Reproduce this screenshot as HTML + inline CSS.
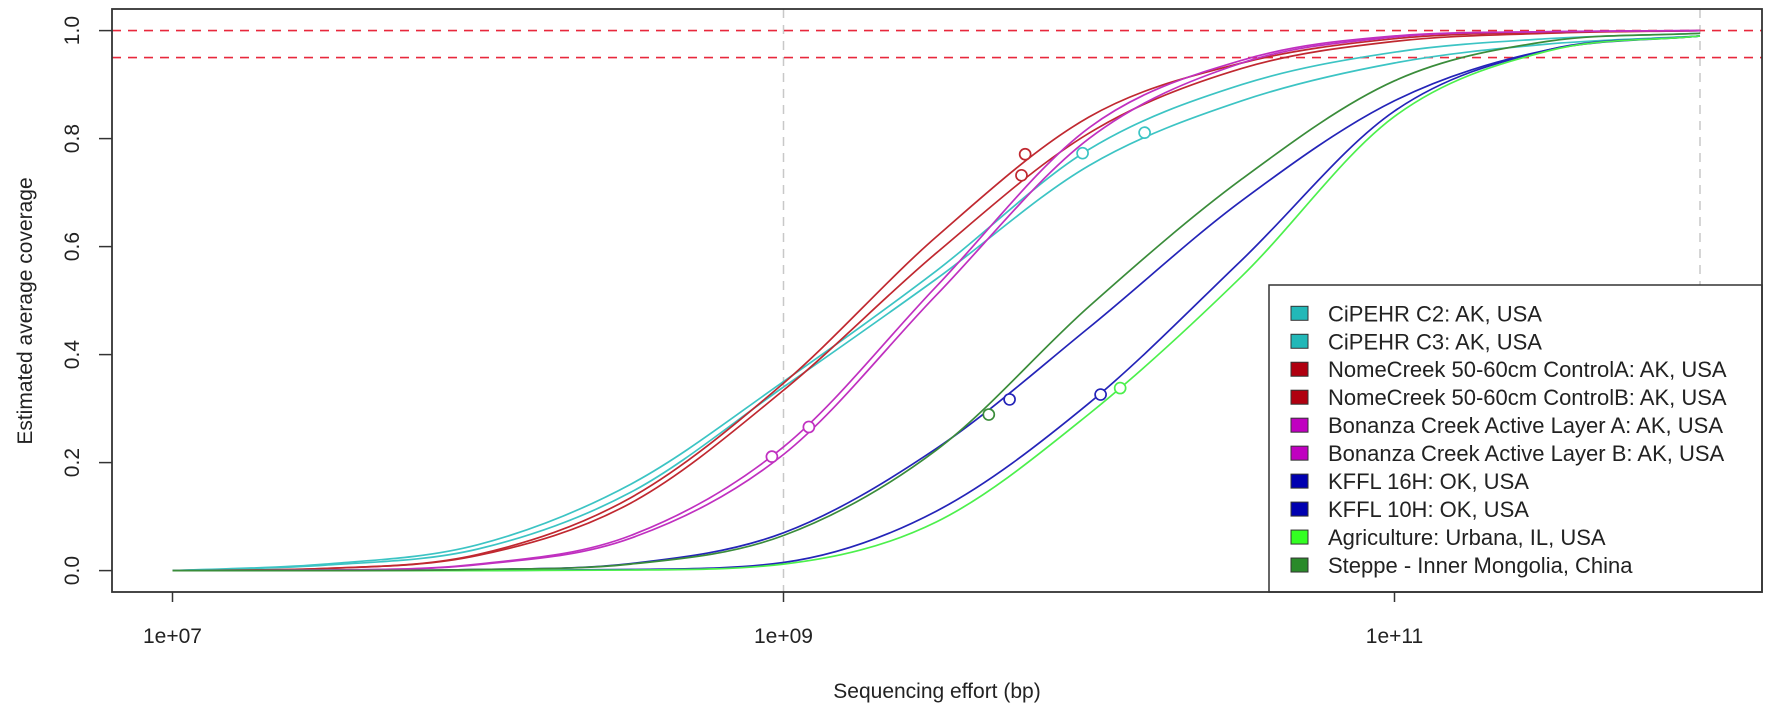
<!DOCTYPE html>
<html><head><meta charset="utf-8"><style>
body{margin:0;background:#fff}
svg{display:block;font-family:"Liberation Sans",sans-serif}
</style></head><body>
<svg id="chart" width="1772" height="706"></svg>
<script>
const logX = [7,7.5,8,8.5,9,9.5,10,10.5,11,11.5,12];
const seriesNames = ["CiPEHR C2: AK, USA","CiPEHR C3: AK, USA","NomeCreek 50-60cm ControlA: AK, USA","NomeCreek 50-60cm ControlB: AK, USA","Bonanza Creek Active Layer A: AK, USA","Bonanza Creek Active Layer B: AK, USA","KFFL 16H: OK, USA","KFFL 10H: OK, USA","Agriculture: Urbana, IL, USA","Steppe - Inner Mongolia, China"];
const seriesColors = ["#3cc4c4","#3cc4c4","#c02830","#c02830","#c030c0","#c030c0","#2424b8","#2424b8","#4cf04c","#3a8c3a"];
const legendColors = ["#22b8b8","#22b8b8","#b00010","#b00010","#c000c0","#c000c0","#0000b0","#0000b0","#33ff22","#2a8a2a"];
const valsC2 = [0,0.012,0.048,0.16,0.35,0.555,0.78,0.9,0.96,0.985,0.995];
const valsC3 = [0,0.01,0.04,0.145,0.34,0.54,0.75,0.87,0.94,0.975,0.99];
const valsNomeA = [0,0.004,0.03,0.135,0.347,0.618,0.84,0.94,0.985,0.997,1];
const valsNomeB = [0,0.004,0.028,0.125,0.334,0.588,0.81,0.93,0.98,0.995,1];
const valsBonA = [0,0.001,0.012,0.065,0.229,0.526,0.82,0.945,0.99,0.998,1];
const valsBonB = [0,0.001,0.011,0.06,0.215,0.51,0.8,0.94,0.988,0.998,1];
const valsK16 = [0,0,0.002,0.013,0.07,0.226,0.45,0.685,0.87,0.964,0.99];
const valsK10 = [0,0,0,0.002,0.015,0.11,0.31,0.575,0.851,0.964,0.99];
const valsAgri = [0,0,0,0.001,0.012,0.09,0.29,0.545,0.841,0.962,0.99];
const valsSteppe = [0,0,0.002,0.012,0.065,0.223,0.489,0.725,0.907,0.98,0.995];
const markerX = [9.979,10.182,9.791,9.779,8.962,9.083,9.74,10.038,10.102,9.672];
const markerY = [0.773,0.811,0.771,0.732,0.211,0.266,0.317,0.326,0.338,0.289];
const xTicks = [7,9,11];
const xTickLabels = ["1e+07","1e+09","1e+11"];
const yTicks = [0,0.2,0.4,0.6,0.8,1.0];
const yTickLabels = ["0.0","0.2","0.4","0.6","0.8","1.0"];
const refLines = [1.0,0.95];

const allVals=[valsC2,valsC3,valsNomeA,valsNomeB,valsBonA,valsBonB,valsK16,valsK10,valsAgri,valsSteppe];
const svg=document.getElementById('chart');
const NS="http://www.w3.org/2000/svg";
const L=112,R=1762,T=9,B=592;
const X=l=>172.5+(l-7)*305.5;
const Y=v=>570.6-v*540;
function mk(tag,at,parent){const e=document.createElementNS(NS,tag);for(const k in at)e.setAttribute(k,at[k]);(parent||svg).appendChild(e);return e;}
[9,12].forEach(l=>{let g=mk('line',{x1:X(l),x2:X(l),y1:T,y2:B,stroke:'#c8c8c8','stroke-width':1.5,'stroke-dasharray':'9,7'});

});
refLines.forEach(v=>{let r=mk('line',{x1:L,x2:R,y1:Y(v),y2:Y(v),stroke:'#e8283c','stroke-width':1.6,'stroke-dasharray':'9,7'});

});
xTicks.forEach((t,i)=>{let l=mk('line',{x1:X(t),x2:X(t),y1:B,y2:B+10,stroke:'#333','stroke-width':1.5});


let tx=mk('text',{x:X(t),y:643,'text-anchor':'middle','font-size':21,fill:'#222'});tx.textContent=xTickLabels[i];

});
yTicks.forEach((t,i)=>{let l=mk('line',{x1:L-13,x2:L,y1:Y(t),y2:Y(t),stroke:'#333','stroke-width':1.5});


let tx=mk('text',{x:0,y:0,'text-anchor':'middle','font-size':21,fill:'#222',transform:`translate(${L-33},${Y(t)}) rotate(-90)`});tx.textContent=yTickLabels[i];

});
let xt=mk('text',{x:937,y:698,'text-anchor':'middle','font-size':21,fill:'#222'});xt.textContent="Sequencing effort (bp)";


let yt=mk('text',{x:0,y:0,'text-anchor':'middle','font-size':21,fill:'#222',transform:'translate(32,311) rotate(-90)'});yt.textContent="Estimated average coverage";


function path(xs,ys){const n=xs.length,d=[],m=[];for(let i=0;i<n-1;i++)d.push((ys[i+1]-ys[i])/(xs[i+1]-xs[i]));
m[0]=d[0];m[n-1]=d[n-2];for(let i=1;i<n-1;i++){m[i]=(d[i-1]*d[i]<=0)?0:(d[i-1]+d[i])/2;}
for(let i=0;i<n-1;i++){if(d[i]===0){m[i]=0;m[i+1]=0;continue;}const a=m[i]/d[i],b=m[i+1]/d[i],s=a*a+b*b;if(s>9){const t=3/Math.sqrt(s);m[i]=t*a*d[i];m[i+1]=t*b*d[i];}}
let p=`M${xs[0]},${ys[0]}`;for(let i=0;i<n-1;i++){const h=(xs[i+1]-xs[i])/3;p+=` C${xs[i]+h},${ys[i]+m[i]*h} ${xs[i+1]-h},${ys[i+1]-m[i+1]*h} ${xs[i+1]},${ys[i+1]}`;}return p;}
allVals.forEach((vals,si)=>{
let p=mk('path',{d:path(logX.map(X),vals.map(Y)),fill:'none',stroke:seriesColors[si],'stroke-width':1.7});


});
allVals.forEach((vals,si)=>{
let c=mk('circle',{cx:X(markerX[si]),cy:Y(markerY[si]),r:5.5,fill:'#fff',stroke:seriesColors[si],'stroke-width':1.7});


});
let lg=mk('g',{});


mk('rect',{x:1269,y:285,width:R-1269,height:B-285,fill:'#fff',stroke:'#333','stroke-width':1.5},lg);
seriesNames.forEach((n,i)=>{const yy=313.3+i*27.97;
let e=mk('g',{},lg);


mk('rect',{x:1291,y:yy-7,width:17,height:14,fill:legendColors[i],stroke:'#333','stroke-width':1},e);
let t=mk('text',{x:1328,y:yy+8,'font-size':22,fill:'#222'},e);t.textContent=n;});
let fr=mk('rect',{x:L,y:T,width:R-L,height:B-T,fill:'none',stroke:'#333','stroke-width':1.8});


</script>
</body></html>
